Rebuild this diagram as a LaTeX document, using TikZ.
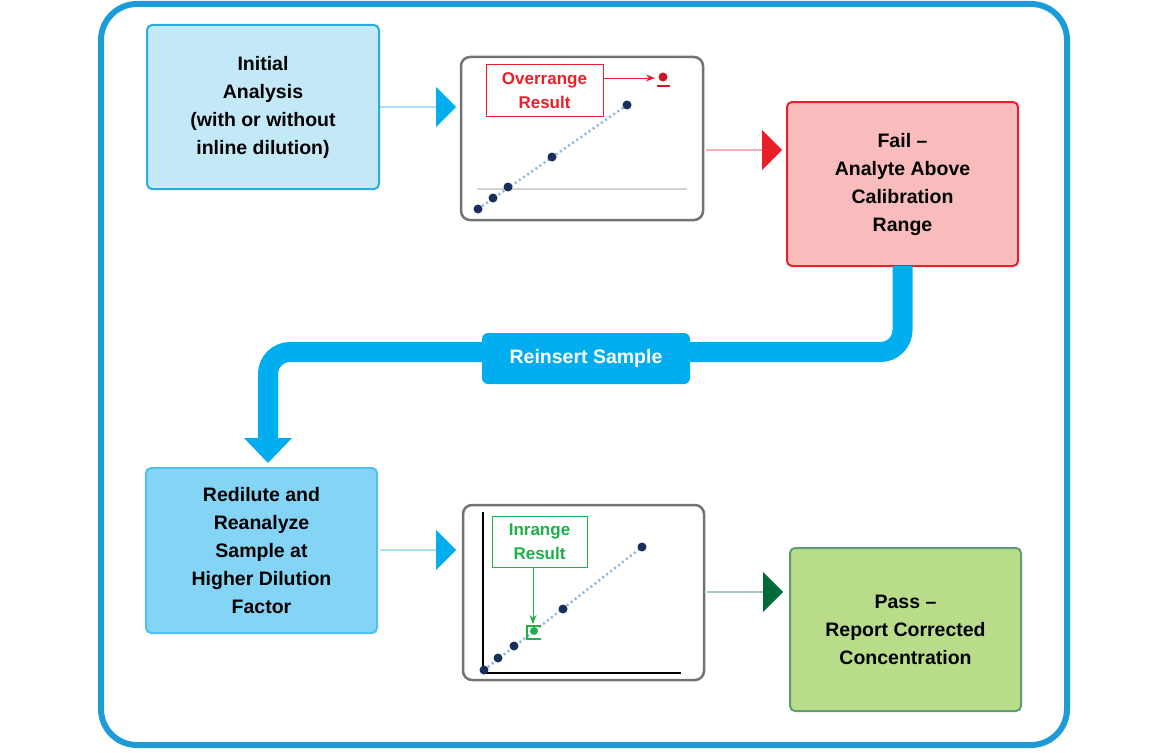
\documentclass[tikz,border=0pt]{standalone}
\usepackage{fontspec}
\setmainfont{Liberation Sans}
\usetikzlibrary{arrows.meta,shapes.arrows}
\definecolor{frameblue}{HTML}{1B9BD7}
\definecolor{cyanb}{HTML}{00AEEF}
\definecolor{lb1}{HTML}{C3E9F9}
\definecolor{lb1d}{HTML}{29ABE2}
\definecolor{lb2}{HTML}{84D5F5}
\definecolor{lb2d}{HTML}{4FC0EF}
\definecolor{pinkf}{HTML}{F9BCBD}
\definecolor{redd}{HTML}{E8202A}
\definecolor{greenf}{HTML}{B9DC8B}
\definecolor{greend}{HTML}{5E9C73}
\definecolor{dkgreen}{HTML}{006B3A}
\definecolor{navy}{HTML}{1A2E5C}
\definecolor{dotb}{HTML}{5B9BD5}
\definecolor{inr}{HTML}{1DB04B}
\begin{document}
\begin{tikzpicture}[x=1pt,y=-1pt,
  txt/.style={font=\fontsize{19.5}{28}\selectfont\bfseries,align=center},
  box/.style={draw,line width=2pt,rounded corners=5pt},
  chart/.style={draw=gray!110,line width=2.5pt,fill=white,rounded corners=9pt},
  pt/.style={circle,fill=navy,inner sep=0pt,minimum size=9pt},
  fat/.style={single arrow,draw=none,minimum height=76pt,minimum width=40pt,single arrow head extend=10pt,inner sep=0pt,single arrow tip angle=90}]
\useasboundingbox (0,0) rectangle (1164,752);
\draw[frameblue,line width=6pt,rounded corners=36pt] (101,4) rectangle (1067,745);
% boxes
\node[box,draw=lb1d,fill=lb1,minimum width=232pt,minimum height=164pt,txt] (init) at (263,107) {Initial\\Analysis\\(with or without\\inline dilution)};
\node[box,draw=redd,fill=pinkf,minimum width=231pt,minimum height=164pt,txt] (fail) at (902.5,184) {Fail --\\Analyte Above\\Calibration\\Range};
\node[box,draw=lb2d,fill=lb2,minimum width=231pt,minimum height=165pt,txt] (redil) at (261.5,550.5) {Redilute and\\Reanalyze\\Sample at\\Higher Dilution\\Factor};
\node[box,draw=greend,fill=greenf,minimum width=231pt,minimum height=163pt,txt] (pass) at (905.5,629.5) {Pass --\\Report Corrected\\Concentration};
% charts
\node[chart,minimum width=242pt,minimum height=163pt] (c1) at (582,138.5) {};
\node[chart,minimum width=241pt,minimum height=175pt] (c2) at (583.5,592.5) {};
% fat arrows
\node[fat,fill=cyanb] (a1) at (418,107) {};
\node[fat,fill=redd] (a2) at (744,150) {};
\node[fat,fill=cyanb] (a3) at (418,550) {};
\node[fat,fill=dkgreen] (a4) at (745,592) {};
% reinsert connector
\coordinate (r1) at (902.5,266);
\coordinate (r2) at (902.5,352);
\coordinate (r3) at (268,352);
\coordinate (r4) at (268,440);
\draw[cyanb,line width=20pt,rounded corners=22pt] (r1) -- (r2) -- (r3) -- (r4);
\fill[cyanb] (r4) ++(-24,-2) -- ++(48,0) -- (268,463) -- cycle;
\node[fill=cyanb,rounded corners=6pt,minimum width=208pt,minimum height=51pt,text=white,font=\fontsize{19.5}{24}\selectfont\bfseries] (rs) at (586,358.5) {Reinsert Sample};
% chart 1 content
\draw[gray!35,line width=2pt] (477,189) -- (687,189);
\coordinate (p1) at (478,209);
\coordinate (p5) at (627,105);
\draw[dotb!70,line width=2.5pt,dash pattern=on 2pt off 3pt] (p1) -- (p5);
\foreach \n/\p in {q1/{(478,209)},q2/{(493,198)},q3/{(508,187)},q4/{(552,157)},q5/{(627,105)}} \node[pt] (\n) at \p {};
\node[draw=redd,line width=1pt,minimum width=117pt,minimum height=51pt,inner sep=0pt,text=redd,font=\fontsize{17}{24}\selectfont\bfseries,align=center,fill=white] (ov) at (544.5,90.5) {Overrange\\Result};
\node[circle,fill=redd!85!black,inner sep=0pt,minimum size=9pt] (od) at (663,77) {};
\draw[redd!85!black,line width=2pt] (657,86) -- (670,86);
\draw[redd,line width=1pt,-{Stealth[length=9pt,width=7pt]}] (ov.east|-0,78) -- (655,78);
% chart 2 content
\draw[black,line width=2.5pt] (483,512) -- (483,673) -- (681,673);
\draw[dotb!70,line width=2.5pt,dash pattern=on 2pt off 3pt] (484,670) -- (642,547);
\foreach \n/\p in {s1/{(484,670)},s2/{(498,658)},s3/{(514,646)},s4/{(563,609)},s5/{(642,547)}} \node[pt] (\n) at \p {};
\node[circle,fill=inr,inner sep=0pt,minimum size=8pt] (gd) at (534,631) {};
\draw[inr,line width=2.5pt] (541,626) -- (527,626) -- (527,639) -- (541,639);
\node[draw=inr,line width=1pt,minimum width=95pt,minimum height=51pt,inner sep=0pt,text=inr,font=\fontsize{17}{24}\selectfont\bfseries,align=center,fill=white] (ir) at (539.5,541.5) {Inrange\\Result};
\draw[inr,line width=1pt,-{Stealth[length=9pt,width=7pt]}] (ir.south-|533,0) -- (533,624);
\end{tikzpicture}
\end{document}
